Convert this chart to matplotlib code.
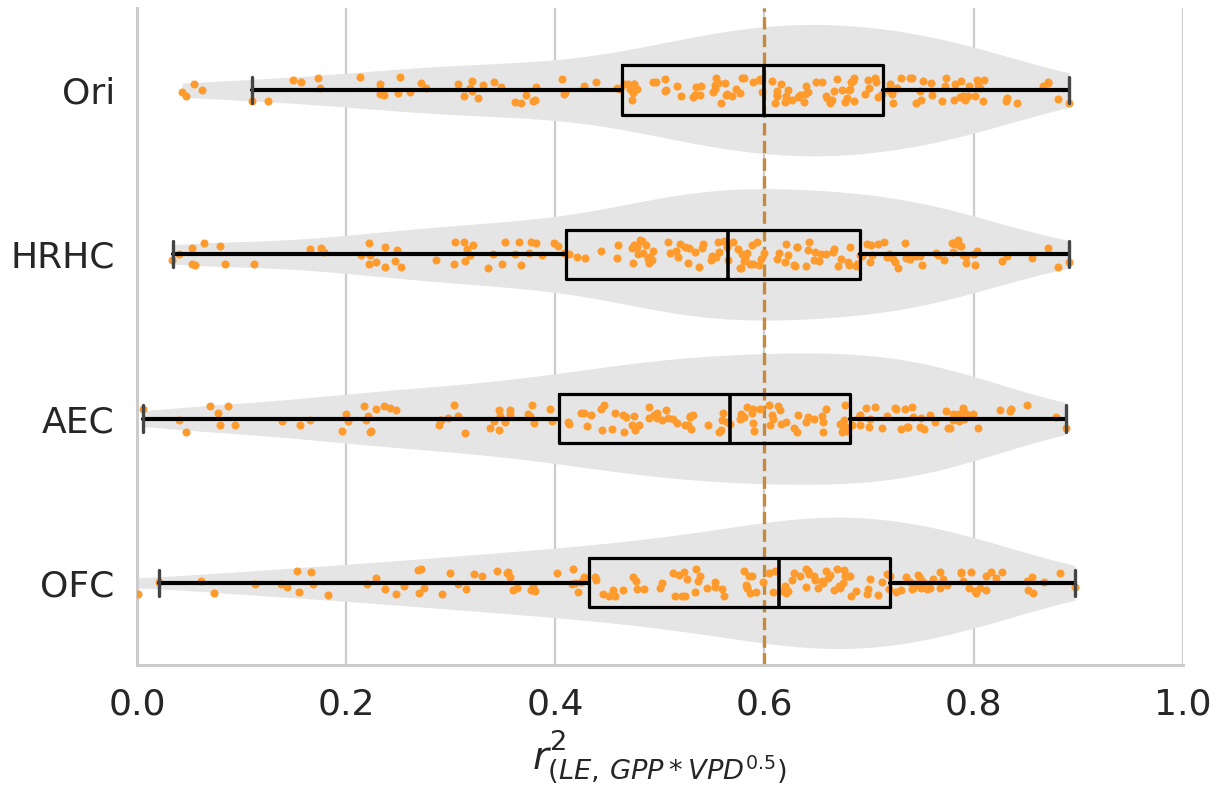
import numpy as np
import pandas as pd
import matplotlib
matplotlib.use("Agg")
import matplotlib.pyplot as plt
import seaborn as sns

models = ["Ori", "HRHC", "AEC", "OFC"]

ori = [0.043, 0.047, 0.054, 0.062, 0.110, 0.125, 0.149, 0.157, 0.173, 0.175,
       0.213, 0.232, 0.232, 0.232, 0.236, 0.250, 0.251, 0.261, 0.272, 0.276,
       0.307, 0.313, 0.318, 0.320, 0.320, 0.326, 0.331, 0.341, 0.348, 0.361,
       0.367, 0.372, 0.379, 0.381, 0.382, 0.406, 0.408, 0.409, 0.427, 0.439,
       0.459, 0.462, 0.466, 0.470, 0.471, 0.473, 0.474, 0.475, 0.475, 0.478,
       0.493, 0.496, 0.505, 0.505, 0.506, 0.516, 0.520, 0.532, 0.534, 0.534,
       0.535, 0.538, 0.539, 0.551, 0.553, 0.553, 0.554, 0.556, 0.558, 0.562,
       0.563, 0.564, 0.569, 0.573, 0.577, 0.579, 0.580, 0.589, 0.595, 0.596,
       0.597, 0.598, 0.607, 0.610, 0.612, 0.612, 0.612, 0.616, 0.620, 0.621,
       0.621, 0.623, 0.626, 0.632, 0.634, 0.638, 0.639, 0.640, 0.642, 0.649,
       0.655, 0.659, 0.660, 0.663, 0.665, 0.667, 0.669, 0.674, 0.677, 0.679,
       0.681, 0.682, 0.683, 0.685, 0.686, 0.686, 0.696, 0.699, 0.700, 0.706,
       0.707, 0.709, 0.712, 0.719, 0.720, 0.722, 0.723, 0.727, 0.731, 0.739,
       0.741, 0.745, 0.749, 0.750, 0.752, 0.759, 0.760, 0.770, 0.773, 0.774,
       0.781, 0.782, 0.787, 0.788, 0.790, 0.792, 0.795, 0.796, 0.801, 0.803,
       0.804, 0.806, 0.809, 0.810, 0.831, 0.832, 0.842, 0.866, 0.871, 0.871,
       0.881, 0.891]

hrhc = [0.033, 0.040, 0.053, 0.053, 0.055, 0.064, 0.079, 0.084, 0.112, 0.165,
        0.176, 0.179, 0.214, 0.222, 0.222, 0.223, 0.229, 0.237, 0.237, 0.247,
        0.249, 0.252, 0.286, 0.303, 0.304, 0.313, 0.314, 0.316, 0.318, 0.321,
        0.336, 0.340, 0.349, 0.352, 0.361, 0.365, 0.367, 0.375, 0.377, 0.382,
        0.387, 0.399, 0.403, 0.408, 0.413, 0.421, 0.428,
        0.444, 0.459, 0.460, 0.473, 0.474, 0.475, 0.475, 0.478, 0.479, 0.481,
        0.483, 0.484, 0.487, 0.489, 0.490, 0.491, 0.492, 0.493, 0.508, 0.510,
        0.515, 0.517, 0.519, 0.524, 0.527, 0.528, 0.534, 0.537, 0.540, 0.541,
        0.549, 0.550, 0.554, 0.556, 0.557, 0.561, 0.564, 0.565, 0.570, 0.575,
        0.577, 0.578, 0.579, 0.580, 0.581, 0.583, 0.586, 0.588, 0.589, 0.593,
        0.595, 0.597, 0.600, 0.612, 0.614, 0.620, 0.621, 0.623, 0.628, 0.629,
        0.631, 0.631, 0.640, 0.642, 0.643, 0.647, 0.648, 0.652, 0.654, 0.659,
        0.666, 0.667, 0.670, 0.673, 0.680, 0.681, 0.682, 0.688, 0.689, 0.691,
        0.693, 0.698, 0.701, 0.702, 0.703, 0.709, 0.714, 0.717, 0.719, 0.723,
        0.725, 0.728, 0.734, 0.735, 0.737, 0.739, 0.745, 0.749, 0.751, 0.764,
        0.766, 0.772, 0.779, 0.780, 0.780, 0.782, 0.785, 0.787, 0.788, 0.790,
        0.793, 0.793, 0.800, 0.801, 0.803, 0.827, 0.832, 0.856, 0.871, 0.881,
        0.891]

aec = [0.006, 0.040, 0.047, 0.070, 0.077, 0.079, 0.087, 0.094, 0.139, 0.156,
       0.165, 0.196, 0.200, 0.202, 0.217, 0.219, 0.221, 0.223, 0.224, 0.229,
       0.236, 0.242, 0.248, 0.289, 0.290, 0.291, 0.297, 0.303, 0.307, 0.314,
       0.338, 0.341, 0.346, 0.346, 0.347, 0.352, 0.357, 0.357, 0.374, 0.376,
       0.378, 0.380, 0.395, 0.397, 0.412, 0.413, 0.425, 0.427, 0.430, 0.434,
       0.444, 0.445, 0.447, 0.454, 0.457, 0.465, 0.466, 0.468, 0.473, 0.475,
       0.476, 0.480, 0.490, 0.490, 0.494, 0.497, 0.497, 0.502, 0.506, 0.508,
       0.513, 0.516, 0.524, 0.527, 0.529, 0.529, 0.530, 0.532, 0.546, 0.557,
       0.558, 0.559, 0.560, 0.564, 0.567, 0.577, 0.578, 0.580, 0.583, 0.588,
       0.589, 0.589, 0.590, 0.596, 0.604, 0.605, 0.607, 0.608, 0.613, 0.615,
       0.616, 0.621, 0.628, 0.631, 0.632, 0.640, 0.642, 0.647, 0.655, 0.656,
       0.656, 0.659, 0.672, 0.674, 0.675, 0.676, 0.677, 0.678, 0.679, 0.684,
       0.690, 0.691, 0.691, 0.697, 0.700, 0.701, 0.706, 0.712, 0.717, 0.725,
       0.726, 0.731, 0.734, 0.736, 0.737, 0.741, 0.742, 0.749, 0.750, 0.753,
       0.758, 0.763, 0.774, 0.776, 0.777, 0.780, 0.780, 0.785, 0.786, 0.790,
       0.791, 0.792, 0.793, 0.799, 0.804, 0.825, 0.835, 0.836, 0.851, 0.879,
       0.888]

ofc = [0.001, 0.021, 0.061, 0.074, 0.113, 0.138, 0.143, 0.153, 0.155, 0.166,
       0.168, 0.183, 0.220, 0.229, 0.237, 0.248, 0.255, 0.269, 0.270, 0.272,
       0.274, 0.292, 0.299, 0.307, 0.315, 0.322, 0.330, 0.344, 0.354, 0.355,
       0.357, 0.360, 0.363, 0.377, 0.379, 0.381, 0.402, 0.416, 0.417, 0.419,
       0.422, 0.425, 0.427, 0.438, 0.439,
       0.446, 0.451, 0.455, 0.457, 0.465, 0.474, 0.477, 0.478, 0.485, 0.500,
       0.502, 0.513, 0.514, 0.518, 0.521, 0.523, 0.524, 0.526, 0.534, 0.535,
       0.536, 0.538, 0.545, 0.553, 0.553, 0.559, 0.561, 0.580, 0.582, 0.583,
       0.583, 0.585, 0.586, 0.588, 0.592, 0.599, 0.604, 0.608, 0.610, 0.618,
       0.620, 0.621, 0.623, 0.626, 0.628, 0.634, 0.640, 0.640, 0.642, 0.643,
       0.647, 0.648, 0.651, 0.655, 0.656, 0.659, 0.661, 0.663, 0.667, 0.669,
       0.671, 0.672, 0.675, 0.676, 0.677, 0.679, 0.680, 0.682, 0.683, 0.688,
       0.698, 0.699, 0.701, 0.709, 0.712, 0.717, 0.719, 0.720, 0.726, 0.731,
       0.735, 0.739, 0.741, 0.742, 0.744, 0.747, 0.749, 0.750, 0.752, 0.755,
       0.758, 0.761, 0.768, 0.768, 0.771, 0.775, 0.788, 0.788, 0.790, 0.796,
       0.798, 0.801, 0.802, 0.806, 0.812, 0.812, 0.817, 0.821, 0.827, 0.851,
       0.852, 0.856, 0.857, 0.867, 0.883, 0.897]

# box statistics
q1 = [0.464, 0.410, 0.404, 0.432]
med = [0.600, 0.565, 0.567, 0.614]
q3 = [0.713, 0.691, 0.682, 0.720]
whislo = [0.110, 0.034, 0.006, 0.021]
whishi = [0.891, 0.891, 0.888, 0.897]

threshold = 0.6

series = [ori, hrhc, aec, ofc]
df = pd.DataFrame({
    "r2": np.concatenate(series),
    "model": np.concatenate([[m] * len(s) for m, s in zip(models, series)]),
})

sns.set_style("whitegrid")
plt.rcParams["font.family"] = ["DejaVu Sans"]

fig = plt.figure(figsize=(12.28, 7.92), dpi=100)
ax = fig.add_axes([0.1116, 0.1604, 0.8515, 0.8295])

vkw = dict(data=df, x="r2", y="model", order=models, orient="h", color="#e5e5e5",
           inner=None, cut=0, linewidth=0, saturation=1, ax=ax)
try:
    sns.violinplot(density_norm="width", **vkw)
except TypeError:
    sns.violinplot(scale="width", **vkw)

ax.axvline(threshold, color="#c68a3f", ls="--", lw=2.4, zorder=2)

np.random.seed(3)
sns.stripplot(data=df, x="r2", y="model", order=models, orient="h", color="#ff9a2c",
              size=5.8, jitter=0.085, linewidth=0, ax=ax, zorder=3)

stats = [dict(med=med[i], q1=q1[i], q3=q3[i], whislo=whislo[i], whishi=whishi[i], fliers=[])
         for i in range(len(models))]
ax.bxp(stats, positions=range(len(models)), orientation="horizontal", widths=0.3,
       showfliers=False, capwidths=0.16,
       boxprops=dict(color="black", lw=2.3),
       whiskerprops=dict(color="black", lw=3.0),
       medianprops=dict(color="black", lw=2.6),
       capprops=dict(color="#444444", lw=2.4),
       zorder=4)

ax.set_xlim(0, 1.0)
ax.set_ylim(3.5, -0.5)
ax.set_xticks(np.arange(0, 1.01, 0.2))
ax.set_xticklabels([f"{t:.1f}" for t in np.arange(0, 1.01, 0.2)])
ax.set_yticks(range(len(models)))
ax.set_yticklabels(models)
ax.grid(axis="x", color="#cccccc", lw=1.6)
ax.grid(axis="y", visible=False)
ax.set_axisbelow(True)
for s in ["top", "right"]:
    ax.spines[s].set_visible(False)
for s in ["left", "bottom"]:
    ax.spines[s].set_color("#cccccc")
    ax.spines[s].set_linewidth(2.2)
ax.tick_params(axis="both", labelsize=26, length=0, pad=16, labelcolor="#262626")
ax.set_ylabel("")
ax.set_xlabel(r"$r^2_{(LE,\,GPP*VPD^{0.5})}$", fontsize=28, labelpad=5, color="#262626")

fig.savefig("out.png", dpi=100)
